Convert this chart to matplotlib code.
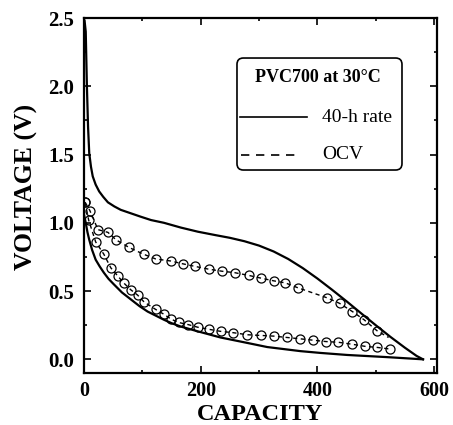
import matplotlib
matplotlib.use("Agg")
import matplotlib.pyplot as plt
from matplotlib.patches import FancyBboxPatch

plt.rcParams["font.family"] = ["Liberation Serif", "DejaVu Serif"]

# 40-h rate, discharge branch (capacity, voltage)
rate_dis_cap = [1, 3, 5, 7, 9, 12, 15, 20, 26, 33, 41, 52, 63, 80, 97, 115, 137, 166, 195, 225,
                250, 275, 300, 325, 350, 375, 400, 425, 450, 475, 500, 525, 550, 570, 581]
rate_dis_v = [2.48, 2.4, 2.0, 1.7, 1.51, 1.41, 1.34, 1.28, 1.23, 1.19, 1.15, 1.12, 1.095, 1.07, 1.045,
              1.02, 1.0, 0.965, 0.935, 0.91, 0.89, 0.865, 0.833, 0.79, 0.735, 0.668, 0.592, 0.51,
              0.425, 0.337, 0.25, 0.165, 0.085, 0.025, 0.0]

# 40-h rate, charge branch
rate_chg_cap = [0, 3, 6, 9, 14, 20, 27, 34, 42, 51, 65, 80, 95, 109, 123, 137, 150, 166, 195, 234,
                280, 314, 371, 405, 451, 520, 581]
rate_chg_v = [1.06, 1.0, 0.93, 0.876, 0.80, 0.73, 0.68, 0.635, 0.59, 0.55, 0.49, 0.44, 0.39, 0.35,
              0.32, 0.29, 0.265, 0.24, 0.205, 0.16, 0.12, 0.09, 0.06, 0.047, 0.032, 0.016, 0.0]

# OCV, upper branch
ocv_up_cap = [2, 10, 24, 41, 55, 77, 102, 123, 149, 169, 191, 214, 237, 258, 282, 303, 325, 345,
              366, 417, 438, 460, 480, 502]
ocv_up_v = [1.15, 1.09, 0.95, 0.93, 0.875, 0.82, 0.77, 0.735, 0.72, 0.70, 0.68, 0.66, 0.645, 0.635,
            0.615, 0.595, 0.575, 0.56, 0.525, 0.45, 0.41, 0.35, 0.29, 0.21]
ocv_up_end = (522, 0.16)

# OCV, lower branch
ocv_lo_cap = [2, 8, 20, 34, 46, 58, 68, 80, 92, 103, 123, 137, 149, 162, 178, 195, 214, 234, 256,
              280, 303, 325, 348, 371, 393, 415, 436, 460, 482, 503, 525]
ocv_lo_v = [1.15, 1.02, 0.86, 0.77, 0.67, 0.61, 0.56, 0.51, 0.47, 0.42, 0.365, 0.33, 0.295, 0.27,
            0.255, 0.235, 0.22, 0.205, 0.195, 0.18, 0.175, 0.17, 0.16, 0.15, 0.14, 0.13, 0.125,
            0.11, 0.095, 0.087, 0.075]

legend_title = "PVC700 at 30°C"
legend_labels = ["40-h rate", "OCV"]

fig = plt.figure(figsize=(4.53, 4.25), dpi=100)
ax = fig.add_axes([0.1854, 0.1224, 0.7793, 0.8352])

dash = (0, (3, 2.5))
ax.plot(rate_dis_cap, rate_dis_v, color="black", lw=1.6)
ax.plot(rate_chg_cap, rate_chg_v, color="black", lw=1.6)
ax.plot(ocv_up_cap + [ocv_up_end[0]], ocv_up_v + [ocv_up_end[1]], color="black", lw=1.0, linestyle=dash)
ax.plot(ocv_up_cap, ocv_up_v, linestyle="none", marker="o", ms=6.5, mfc="none", mec="black", mew=0.9)
ax.plot(ocv_lo_cap, ocv_lo_v, color="black", lw=1.0, linestyle=dash,
        marker="o", ms=6.5, mfc="none", mec="black", mew=0.9)

ax.set_xlim(0, 605)
ax.set_ylim(-0.1, 2.5)
ax.set_xticks([0, 200, 400, 600])
ax.set_xticks([100, 300, 500], minor=True)
ax.set_yticks([0.0, 0.5, 1.0, 1.5, 2.0, 2.5])
ax.set_yticks([0.25, 0.75, 1.25, 1.75, 2.25], minor=True)
ax.set_yticklabels(["0.0", "0.5", "1.0", "1.5", "2.0", "2.5"])
ax.tick_params(which="both", direction="in", top=True, right=True, width=1.2)
ax.tick_params(which="major", length=5, pad=6)
ax.tick_params(axis="x", which="major", labelsize=14.5)
ax.tick_params(axis="y", which="major", labelsize=15, pad=7)
for lab in ax.get_xticklabels() + ax.get_yticklabels():
    lab.set_fontweight("bold")
for sp in ax.spines.values():
    sp.set_linewidth(1.6)

ax.set_xlabel("CAPACITY", fontsize=17.5, fontweight="bold", labelpad=2)
ax.set_ylabel("VOLTAGE (V)", fontsize=18.5, fontweight="bold")
ax.yaxis.set_label_coords(-0.13, 0.525)

# hand-built legend box
ax.add_patch(FancyBboxPatch((0.4334, 0.5718), 0.4674, 0.3155, transform=ax.transAxes,
                            boxstyle="round,pad=0,rounding_size=0.018",
                            facecolor="white", edgecolor="black", lw=1.2, zorder=5))
ax.text(0.6629, 0.8338, legend_title, transform=ax.transAxes, ha="center", va="center",
        fontsize=13, fontweight="bold", zorder=6)
ax.plot([0.4419, 0.6317], [0.7211, 0.7211], transform=ax.transAxes, color="black", lw=1.2, zorder=6)
ax.plot([0.4448, 0.6119], [0.6141, 0.6141], transform=ax.transAxes, color="black", lw=1.2,
        linestyle=(0, (5, 4)), zorder=6)
ax.text(0.6742, 0.7211, legend_labels[0], transform=ax.transAxes, ha="left", va="center",
        fontsize=14, zorder=6)
ax.text(0.6742, 0.6141, legend_labels[1], transform=ax.transAxes, ha="left", va="center",
        fontsize=14, zorder=6)

fig.savefig("out.png", dpi=100)
